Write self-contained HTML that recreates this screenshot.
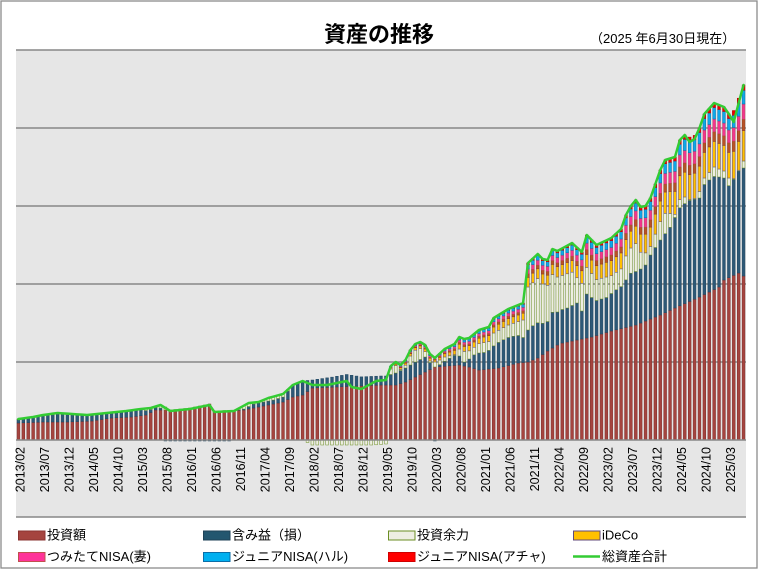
<!DOCTYPE html>
<html><head><meta charset="utf-8">
<style>
html,body{margin:0;padding:0;background:#fff;}
svg{display:block;font-family:"Liberation Sans","Noto Sans CJK JP",sans-serif;}
</style></head><body>
<svg id="s" width="759" height="570" viewBox="0 0 759 570" xmlns="http://www.w3.org/2000/svg">
<rect x="0" y="0" width="759" height="570" fill="#fff"/>
<rect x="1" y="1" width="756" height="567" fill="none" stroke="#8c8c8c" stroke-width="1.3"/>
<rect x="16" y="50" width="730" height="467" fill="#e6e6e6"/>
<g stroke="#878787" stroke-width="1.5">
<line x1="16" y1="50" x2="746" y2="50"/>
<line x1="16" y1="128" x2="746" y2="128"/>
<line x1="16" y1="206" x2="746" y2="206"/>
<line x1="16" y1="284" x2="746" y2="284"/>
<line x1="16" y1="362" x2="746" y2="362"/>
<line x1="16" y1="517" x2="746" y2="517"/>
</g>
<g id="bars"></g>
<line x1="16" y1="440" x2="746" y2="440" stroke="#878787" stroke-width="1.5"/>
<path id="tl" d="" fill="none" stroke="#33cc33" stroke-width="2.5" stroke-linejoin="round" stroke-linecap="round"/>

<text x="379" y="42" text-anchor="middle" font-size="22" font-weight="bold" fill="#000">資産の推移</text>
<text x="590" y="43" font-size="13" fill="#000">（2025 年6月30日現在）</text>

<g font-size="12.5" fill="#000" text-anchor="end" dominant-baseline="central">
<text transform="translate(20.45,447) rotate(-90)">2013/02</text>
<text transform="translate(44.95,447) rotate(-90)">2013/07</text>
<text transform="translate(69.44,447) rotate(-90)">2013/12</text>
<text transform="translate(93.94,447) rotate(-90)">2014/05</text>
<text transform="translate(118.44,447) rotate(-90)">2014/10</text>
<text transform="translate(142.93,447) rotate(-90)">2015/03</text>
<text transform="translate(167.43,447) rotate(-90)">2015/08</text>
<text transform="translate(191.93,447) rotate(-90)">2016/01</text>
<text transform="translate(216.42,447) rotate(-90)">2016/06</text>
<text transform="translate(240.92,447) rotate(-90)">2016/11</text>
<text transform="translate(265.42,447) rotate(-90)">2017/04</text>
<text transform="translate(289.91,447) rotate(-90)">2017/09</text>
<text transform="translate(314.41,447) rotate(-90)">2018/02</text>
<text transform="translate(338.91,447) rotate(-90)">2018/07</text>
<text transform="translate(363.40,447) rotate(-90)">2018/12</text>
<text transform="translate(387.90,447) rotate(-90)">2019/05</text>
<text transform="translate(412.39,447) rotate(-90)">2019/10</text>
<text transform="translate(436.89,447) rotate(-90)">2020/03</text>
<text transform="translate(461.39,447) rotate(-90)">2020/08</text>
<text transform="translate(485.88,447) rotate(-90)">2021/01</text>
<text transform="translate(510.38,447) rotate(-90)">2021/06</text>
<text transform="translate(534.88,447) rotate(-90)">2021/11</text>
<text transform="translate(559.37,447) rotate(-90)">2022/04</text>
<text transform="translate(583.87,447) rotate(-90)">2022/09</text>
<text transform="translate(608.37,447) rotate(-90)">2023/02</text>
<text transform="translate(632.86,447) rotate(-90)">2023/07</text>
<text transform="translate(657.36,447) rotate(-90)">2023/12</text>
<text transform="translate(681.86,447) rotate(-90)">2024/05</text>
<text transform="translate(706.35,447) rotate(-90)">2024/10</text>
<text transform="translate(730.85,447) rotate(-90)">2025/03</text>
</g>

<g stroke-width="1">
<rect x="18.5" y="531" width="26.5" height="9" fill="#a5443f" stroke="#8a3330"/>
<rect x="203.5" y="531" width="26.5" height="9" fill="#23566f" stroke="#1f4257"/>
<rect x="388.5" y="531" width="26.5" height="9" fill="#eeeee2" stroke="#6b8e23"/>
<rect x="573.5" y="531" width="26.5" height="9" fill="#ffc000" stroke="#604a7b"/>
<rect x="18.5" y="552.5" width="26.5" height="9" fill="#ff3399" stroke="#c0504d"/>
<rect x="203.5" y="552.5" width="26.5" height="9" fill="#00b0f0" stroke="#0a6ea8"/>
<rect x="388.5" y="552.5" width="26.5" height="9" fill="#ff0000" stroke="#d00000"/>
</g>
<line x1="573" y1="556.5" x2="600" y2="556.5" stroke="#33cc33" stroke-width="2.5"/>
<g font-size="13" fill="#000">
<text x="47" y="539.5">投資額</text>
<text x="232" y="539.5">含み益（損）</text>
<text x="417" y="539.5">投資余力</text>
<text x="602" y="539.5">iDeCo</text>
<text x="47" y="561">つみたてNISA(妻)</text>
<text x="232" y="561">ジュニアNISA(ハル)</text>
<text x="417" y="561">ジュニアNISA(アチャ)</text>
<text x="602" y="561">総資産合計</text>
</g>
</svg>
<script>
(function(){
var R=[[0,17],[5,18],[10,18],[15,19],[19,22],[23,23],[26,25],[28,30],[30,30],[34,30],[37,33],[39,36],[40,28],[46,30],[49,33],[54,38],[56,43],[58,45],[60,52],[74,55],[77,55],[79,58],[81,63],[85,73],[90,75],[92,73],[94,70],[98,72],[102,77],[104,78],[106,82],[108,89],[110,95],[111,97],[117,103],[121,109],[126,115],[131,125],[134,132],[139,143],[143,153],[144,160],[147,167],[148,164]];
var G=[[0,3.5],[5,6],[8,8],[14,6],[18,5],[22,6],[25,6],[27,3],[29,2],[30,-1],[43,-1],[44,0],[46,1],[48,4],[52,4],[54,5],[56,12],[58,14],[60,8],[64,10],[67,12],[70,9],[73,9],[75,9],[77,12],[79,14],[81,15],[83,15],[85,-1],[86,2],[87,5],[89,10],[90,9],[91,4],[92,8],[93.6,17],[95.6,17],[97.6,25],[99.7,28],[101.8,28],[103,25],[104,32],[105.8,36],[107.8,28],[108.9,36],[110,33],[112,34],[114,37],[115,28],[116,44],[118,35],[120,35],[122,40],[123,42],[125,53],[127,54],[128,56],[129,64],[131,75],[133,83],[135,98],[136,100],[137,101],[139,99],[140,110],[141,112],[142,113],[143,110],[144,102],[145,92],[146,96],[147,102],[148,108]];
var T=[[0,21],[3,23],[5,25],[8,27],[11,26],[14,25],[18,27],[22,29],[25,31],[27,32],[29,35],[31,29],[35,31],[39,35],[40,28],[44,29],[47,37],[49,38],[51,42],[54,46],[56,55],[58,59],[60,55],[63,55],[66,58],[67,59],[68,53],[70,51],[73,59],[75,60],[76,74],[77,78],[78,75],[79,80],[80,90],[81,96],[82,98],[83,95],[84,86],[85,82],[87,91],[89,96],[90,103],[91,101],[92,102],[94,110],[96,113],[97,122],[100,131],[102,135],[103,137],[104,177],[106,186],[107,181],[108,180],[109,191],[110,189],[113,197],[115,188],[116,205],[118,195],[121,202],[123,211],[124,225],[125,234],[126,240],[127,233],[128,234],[129,242],[131,270],[132,280],[134,283],[135,300],[136,305],[137,298],[138,301],[139,312],[140,326],[142,337],[143,335],[144,333],[145,326],[146,318],[147,337],[148,355]];
var U=[[75,0],[76,3],[80,6],[84,7],[85,5],[87,8],[90,12],[97,15],[103,17],[104,24],[110,26],[125,42],[133,55],[136,62],[140,64],[145,64],[148,76]];
function ip(kp,i){if(i<=kp[0][0])return kp[0][1];for(var j=1;j<kp.length;j++){if(i<=kp[j][0]){var a=kp[j-1],b=kp[j];return a[1]+(b[1]-a[1])*(i-a[0])/(b[0]-a[0]);}}return kp[kp.length-1][1];}
var NS="http://www.w3.org/2000/svg";
var g=document.getElementById('bars');
var W=730/149, BW=2.8;
function rect(x,y,h,f,s){if(h<0.35)return;var r=document.createElementNS(NS,'rect');r.setAttribute('x',x.toFixed(2));r.setAttribute('y',y.toFixed(2));r.setAttribute('width',BW);r.setAttribute('height',h.toFixed(2));r.setAttribute('fill',f);r.setAttribute('stroke',s);r.setAttribute('stroke-width','0.5');g.appendChild(r);}
var C={r:['#a5443f','#7f2f2c'],b:['#2d5877','#224760'],e:['#eeeee2','#6b8e23'],y:['#ffc000','#604a7b'],br:['#b85226','#8a3b1a'],p:['#f2358f','#b8465a'],c:['#0fa8e8','#0a6ea8'],rd:['#ee0000','#b00000']};
var d='';
for(var i=0;i<149;i++){
  var x=16+i*W+(W-BW)/2, xc=16+(i+0.5)*W;
  var r=ip(R,i), gn=ip(G,i), t=ip(T,i), u=(i>=76)?ip(U,i):0;
  var be=t-r-gn-u;
  if(i>=76&&be<0.8)be=0.8;
  if(be<-5)be=-5;
  var y=440;
  y-=r;rect(x,y,r,C.r[0],C.r[1]);
  if(gn>0){y-=gn;rect(x,y,gn,C.b[0],C.b[1]);}
  if(be>0){y-=be;rect(x,y,be,C.e[0],C.e[1]);}
  if(u>0){
    var fr=[['y',0.4],['br',0.15],['p',0.2],['c',0.18],['rd',0.07]];
    for(var k=0;k<fr.length;k++){var h=u*fr[k][1];y-=h;rect(x,y,h,C[fr[k][0]][0],C[fr[k][0]][1]);}
  }
  var yn=440;
  if(gn<0){rect(x,yn,-gn,C.b[0],C.b[1]);yn+=-gn;}
  if(be<0){rect(x,yn,-be,C.e[0],C.e[1]);}
  d+=(i?'L':'M')+xc.toFixed(2)+' '+(440-t).toFixed(2);
}
document.getElementById('tl').setAttribute('d',d);
})();
</script>
</body></html>
